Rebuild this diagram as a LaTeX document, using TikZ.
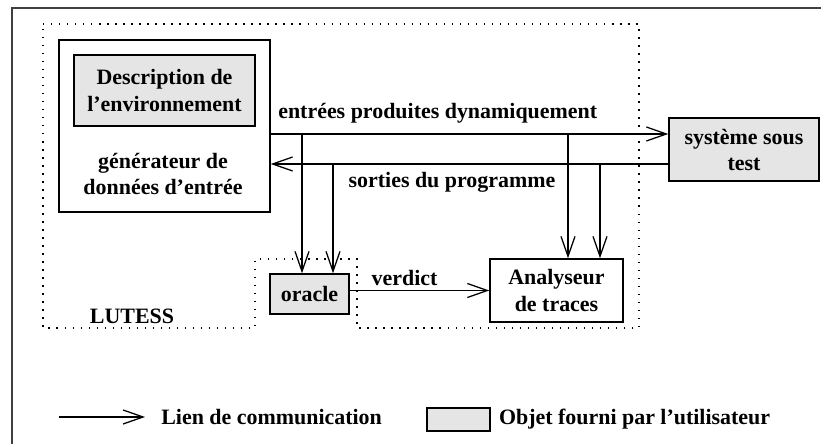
\documentclass[tikz,border=0pt]{standalone}
\usepackage{fontspec}
\setmainfont{Liberation Serif}
\usetikzlibrary{arrows.meta, positioning}
\definecolor{usergray}{RGB}{229,229,229}

\begin{document}
\begin{tikzpicture}[
        x=0.025cm, y=-0.025cm,
        every node/.style={font=\fontsize{15.6}{18.5}\selectfont\bfseries, align=center, inner sep=0pt},
        box/.style={rectangle, draw, line width=1pt},
        given/.style={box, fill=usergray},
        link/.style={-{Straight Barb[length=5mm, width=3.5mm]}, line width=0.9pt},
        zone/.style={line width=1pt, dash pattern=on 1pt off 4.7pt}
    ]
        \useasboundingbox (0,0) rectangle (821,444);
        \draw[line width=1pt, black!75] (12,444) -- (12,8) -- (821,8);

        % LUTESS zone
        \draw[zone] (43,24) -- (639,24) -- (639,328) -- (357,328) -- (357,259)
            -- (255,259) -- (255,328) -- (43,328) -- cycle;
        \node (lutess) at (132,316) {LUTESS};

        \node[box, minimum width=5.275cm, minimum height=4.3cm] (gen) at (164.5,126) {};
        \node[given, minimum width=4.525cm, minimum height=1.775cm] (desc) at (164.5,90.5) {Description de\\l'environnement};
        \node (gentext) at (163,174) {générateur de\\données d'entrée};
        \node[given, minimum width=3.75cm, minimum height=1.575cm] (sut) at (744,149.5) {système sous\\test};
        \node[given, minimum width=1.975cm, minimum height=1cm] (oracle) at (309.5,294) {oracle};
        \node[box, minimum width=3.325cm, minimum height=1.575cm] (ana) at (556.5,290.5) {Analyseur\\de traces};

        \coordinate (inline) at (0,134);
        \coordinate (outline) at (0,164);
        \draw[link] (gen.east |- inline) -- (sut.west |- inline);
        \draw[link] (sut.west |- outline) -- (gen.east |- outline);
        \node[anchor=west] (inlabel) at (278,113) {entrées produites dynamiquement};
        \node (outlabel) at (452,182) {sorties du programme};

        \coordinate (tapA) at (302,134);
        \coordinate (tapB) at (333,164);
        \coordinate (tapC) at (568,134);
        \coordinate (tapD) at (600,164);
        \draw[link] (tapA) -- (tapA |- oracle.north);
        \draw[link] (tapB) -- (tapB |- oracle.north);
        \draw[link] (tapC) -- (tapC |- ana.north);
        \draw[link] (tapD) -- (tapD |- ana.north);

        \draw[link] (ana.west -| oracle.east) -- (ana.west);
        \node (verdictlabel) at (404.5,278) {verdict};

        % legend
        \coordinate (legA) at (59,417);
        \coordinate (legB) at (145,417);
        \draw[link] (legA) -- (legB);
        \node[anchor=west] (leglink) at (161,417) {Lien de communication};
        \node[given, minimum width=1.575cm, minimum height=0.575cm] (legbox) at (458.5,419.5) {};
        \node[right=0.2cm of legbox] (leguser) {Objet fourni par l'utilisateur};
    \end{tikzpicture}
\end{document}
